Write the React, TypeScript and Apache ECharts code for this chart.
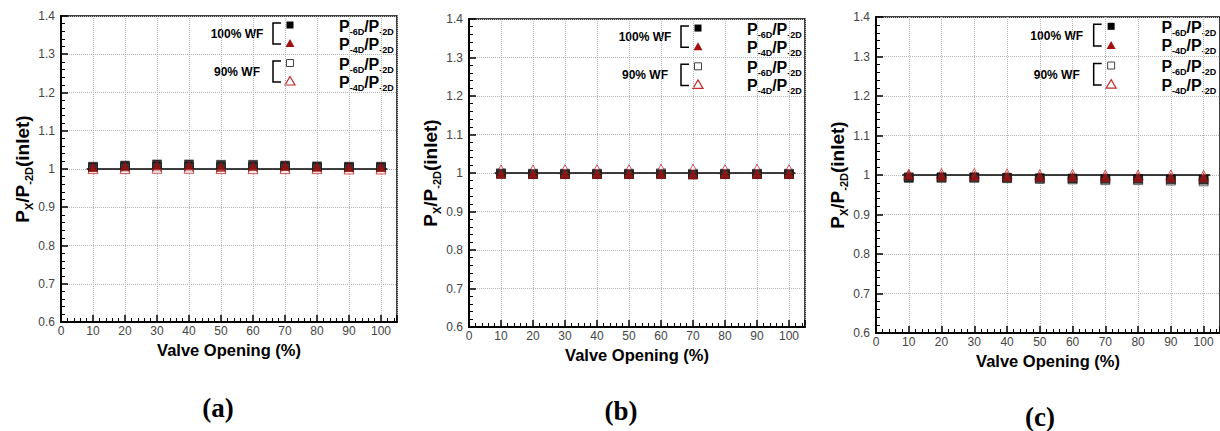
import React, { useEffect, useRef } from "react";
import * as echarts from "echarts";

// ---------- data ----------
const valveOpening = [10, 20, 30, 40, 50, 60, 70, 80, 90, 100];

// panel (a)
const a_wf100_6D = [1.006, 1.009, 1.012, 1.012, 1.011, 1.011, 1.009, 1.007, 1.006, 1.006];
const a_wf100_4D = [1.005, 1.007, 1.009, 1.009, 1.006, 1.008, 1.008, 1.006, 1.005, 1.005];
const a_wf90_6D = [1.003, 1.004, 1.005, 1.005, 1.004, 1.004, 1.004, 1.003, 1.003, 1.003];
const a_wf90_4D = [1.001, 1.001, 1.002, 1.002, 1.001, 1.001, 1.001, 1.001, 1.0, 1.0];

// panel (b)
const b_wf100_6D = [0.998, 0.997, 0.997, 0.997, 0.997, 0.997, 0.996, 0.997, 0.997, 0.997];
const b_wf100_4D = [0.998, 0.998, 0.998, 0.998, 0.998, 0.998, 0.997, 0.998, 0.998, 0.998];
const b_wf90_6D = [0.999, 0.998, 0.998, 0.998, 0.998, 0.999, 0.998, 0.998, 0.998, 0.998];
const b_wf90_4D = [1.008, 1.008, 1.009, 1.009, 1.009, 1.01, 1.01, 1.009, 1.01, 1.009];

// panel (c)
const c_wf100_6D = [0.993, 0.994, 0.994, 0.993, 0.992, 0.991, 0.99, 0.99, 0.989, 0.988];
const c_wf100_4D = [1.001, 0.998, 0.998, 0.997, 0.996, 0.996, 0.995, 0.995, 0.994, 0.994];
const c_wf90_6D = [0.994, 0.993, 0.993, 0.992, 0.99, 0.989, 0.987, 0.987, 0.986, 0.984];
const c_wf90_4D = [1.002, 1.004, 1.004, 1.003, 1.001, 1.002, 1.0, 1.0, 1.0, 0.999];

const refLineX = [8, 102];
const refLineY = 1;

const xMin = 0;
const xMax = 105;
const xInterval = 10;
const yMin = 0.6;
const yMax = 1.4;
const yInterval = 0.1;

const xAxisTitle = "Valve Opening (%)";
const yAxisTitle = "{b|P}{s|X}{b|/P}{s|-2D}{b|(inlet)}";
const panelLabels = ["(a)", "(b)", "(c)"];
const groupLabels = ["100% WF", "90% WF"];
const legendLabels = [
  "{b|P}{s|-6D}{b|/P}{s|-2D}",
  "{b|P}{s|-4D}{b|/P}{s|-2D}",
  "{b|P}{s|-6D}{b|/P}{s|-2D}",
  "{b|P}{s|-4D}{b|/P}{s|-2D}",
];
const seriesNames = [
  "100% WF P-6D/P-2D",
  "100% WF P-4D/P-2D",
  "90% WF P-6D/P-2D",
  "90% WF P-4D/P-2D",
];

const panels = [
  { label: panelLabels[0], d100_6: a_wf100_6D, d100_4: a_wf100_4D, d90_6: a_wf90_6D, d90_4: a_wf90_4D },
  { label: panelLabels[1], d100_6: b_wf100_6D, d100_4: b_wf100_4D, d90_6: b_wf90_6D, d90_4: b_wf90_4D },
  { label: panelLabels[2], d100_6: c_wf100_6D, d100_4: c_wf100_4D, d90_6: c_wf90_6D, d90_4: c_wf90_4D },
];

// ---------- layout / style ----------
const grids = [
  { left: 61, top: 16, width: 336, height: 306, capX: 218, capY: 408, xGap: 15 },
  { left: 469, top: 19, width: 336, height: 308, capX: 621, capY: 411, xGap: 15 },
  { left: 876, top: 17, width: 345, height: 316, capX: 1040, capY: 417, xGap: 17 },
];

const FONT = "'Liberation Sans', Arial, Helvetica, sans-serif";
const RED_FILL = "#a3100f";
const RED_LINE = "#c42a2a";
const OPEN_SQ = "#444";

const pair = (ys: number[]) => valveOpening.map((x, i) => [x, ys[i]]);

function buildOption() {
  const xAxis: any[] = [];
  const yAxis: any[] = [];
  const series: any[] = [];
  const graphic: any[] = [];

  grids.forEach((g, gi) => {
    const p = panels[gi];
    xAxis.push({
      gridIndex: gi,
      type: "value",
      min: xMin,
      max: xMax,
      interval: xInterval,
      name: xAxisTitle,
      nameLocation: "middle",
      nameGap: g.xGap,
      nameTextStyle: { fontFamily: FONT, fontWeight: "bold", fontSize: 16.5, color: "#000" },
      axisLine: { show: true, onZero: false, lineStyle: { color: "#000", width: 2 } },
      axisTick: { show: true, inside: true, length: 7, lineStyle: { color: "#000", width: 1.5 } },
      minorTick: { show: true, splitNumber: 5, length: 4, lineStyle: { color: "#000", width: 1 } },
      splitLine: { show: true, lineStyle: { type: "dotted", color: "#b5b5b5", width: 1 } },
      axisLabel: {
        show: true,
        margin: 3,
        fontFamily: FONT,
        fontSize: 12,
        color: "#444",
        showMaxLabel: false,
        formatter: (v: number) => (v > 100 ? "" : String(v)),
      },
    });
    yAxis.push({
      gridIndex: gi,
      type: "value",
      min: yMin,
      max: yMax,
      interval: yInterval,
      name: yAxisTitle,
      nameLocation: "middle",
      nameGap: 27,
      nameTextStyle: {
        rich: {
          b: { fontFamily: FONT, fontWeight: "bold", fontSize: 19, color: "#000", lineHeight: 24, verticalAlign: "middle" },
          s: { fontFamily: FONT, fontWeight: "bold", fontSize: 11, color: "#000", lineHeight: 11, verticalAlign: "bottom" },
        },
      },
      axisLine: { show: true, onZero: false, lineStyle: { color: "#000", width: 2 } },
      axisTick: { show: true, inside: true, length: 7, lineStyle: { color: "#000", width: 1.5 } },
      minorTick: { show: true, splitNumber: 5, length: 4, lineStyle: { color: "#000", width: 1 } },
      splitLine: { show: true, lineStyle: { type: "dotted", color: "#b5b5b5", width: 1 } },
      axisLabel: {
        show: true,
        margin: 6,
        fontFamily: FONT,
        fontSize: 12,
        color: "#444",
        formatter: (v: number) => String(parseFloat(v.toFixed(2))),
      },
    });

    series.push({
      type: "line",
      name: "reference",
      xAxisIndex: gi,
      yAxisIndex: gi,
      data: refLineX.map((x) => [x, refLineY]),
      symbol: "none",
      lineStyle: { color: "#000", width: 1.5 },
      z: 2,
    });
    series.push({
      type: "scatter",
      name: seriesNames[2],
      xAxisIndex: gi,
      yAxisIndex: gi,
      data: pair(p.d90_6),
      symbol: "rect",
      symbolSize: 9,
      itemStyle: { color: "#fff", borderColor: OPEN_SQ, borderWidth: 1 },
      z: 3,
    });
    series.push({
      type: "scatter",
      name: seriesNames[3],
      xAxisIndex: gi,
      yAxisIndex: gi,
      data: pair(p.d90_4),
      symbol: "triangle",
      symbolSize: 10,
      itemStyle: { color: "#fff", borderColor: RED_LINE, borderWidth: 1 },
      z: 4,
    });
    series.push({
      type: "scatter",
      name: seriesNames[0],
      xAxisIndex: gi,
      yAxisIndex: gi,
      data: pair(p.d100_6),
      symbol: "rect",
      symbolSize: 9,
      itemStyle: { color: "#000", borderColor: "#000", borderWidth: 0.5 },
      z: 5,
    });
    series.push({
      type: "scatter",
      name: seriesNames[1],
      xAxisIndex: gi,
      yAxisIndex: gi,
      data: pair(p.d100_4),
      symbol: "triangle",
      symbolSize: 10,
      itemStyle: { color: RED_FILL },
      z: 6,
    });

    // ---- custom legend inside each plot ----
    const sx = g.width / 336;
    const sy = g.height / 306;
    const mx = g.left + 229 * sx;
    const lx = g.left + 278 * sx;
    const tx = g.left + 176 * sx;
    const bx = g.left + 212 * sx;
    const ys = [9, 27, 47, 65].map((v) => g.top + v * sy);

    graphic.push({
      type: "text",
      x: tx,
      y: (ys[0] + ys[1]) / 2,
      style: { text: groupLabels[0], font: `bold 12px ${FONT}`, fill: "#000", textAlign: "center", textVerticalAlign: "middle" },
    });
    graphic.push({
      type: "text",
      x: tx,
      y: (ys[2] + ys[3]) / 2,
      style: { text: groupLabels[1], font: `bold 12px ${FONT}`, fill: "#000", textAlign: "center", textVerticalAlign: "middle" },
    });
    [[ys[0], ys[1]], [ys[2], ys[3]]].forEach(([y0, y1]) => {
      graphic.push({
        type: "polyline",
        shape: { points: [[bx + 8, y0 - 2], [bx, y0 - 2], [bx, y1 + 1], [bx + 8, y1 + 1]] },
        style: { stroke: "#000", lineWidth: 1.5, fill: null },
      });
    });
    graphic.push({ type: "rect", shape: { x: mx - 3.5, y: ys[0] - 3.5, width: 7, height: 7 }, style: { fill: "#000" } });
    graphic.push({
      type: "polygon",
      shape: { points: [[mx, ys[1] - 4], [mx + 4.5, ys[1] + 4], [mx - 4.5, ys[1] + 4]] },
      style: { fill: RED_FILL },
    });
    graphic.push({
      type: "rect",
      shape: { x: mx - 3.5, y: ys[2] - 3.5, width: 7, height: 7 },
      style: { fill: "#fff", stroke: OPEN_SQ, lineWidth: 1 },
    });
    graphic.push({
      type: "polygon",
      shape: { points: [[mx, ys[3] - 4.5], [mx + 5, ys[3] + 4], [mx - 5, ys[3] + 4]] },
      style: { fill: "#fff", stroke: RED_LINE, lineWidth: 1.2 },
    });
    legendLabels.forEach((t, i) => {
      graphic.push({
        type: "text",
        x: lx,
        y: ys[i] + 1,
        style: {
          text: t,
          textAlign: "left",
          textVerticalAlign: "middle",
          rich: {
            b: { fontFamily: FONT, fontWeight: "bold", fontSize: 16, fill: "#000", lineHeight: 20, verticalAlign: "middle" },
            s: { fontFamily: FONT, fontWeight: "bold", fontSize: 9, fill: "#000", lineHeight: 9, verticalAlign: "bottom" },
          },
        },
      });
    });

    graphic.push({
      type: "text",
      x: g.capX,
      y: g.capY,
      style: {
        text: p.label,
        font: "bold 27px 'Liberation Serif', 'Times New Roman', serif",
        fill: "#000",
        textAlign: "center",
        textVerticalAlign: "middle",
      },
    });
  });

  return {
    animation: false,
    backgroundColor: "#fff",
    grid: grids.map((g) => ({
      left: g.left,
      top: g.top,
      width: g.width,
      height: g.height,
      show: true,
      borderColor: "#000",
      borderWidth: 1.5,
      backgroundColor: "transparent",
    })),
    xAxis,
    yAxis,
    series,
    graphic,
  };
}

export default function App() {
  const ref = useRef<HTMLDivElement>(null);
  useEffect(() => {
    document.body.style.margin = "0";
    if (!ref.current) return;
    const chart = echarts.init(ref.current, null, { renderer: "svg" });
    chart.setOption(buildOption() as any);
    return () => chart.dispose();
  }, []);
  return (
    <div
      ref={ref}
      style={{ position: "absolute", left: 0, top: 0, width: 1220, height: 431, background: "#fff" }}
    />
  );
}
